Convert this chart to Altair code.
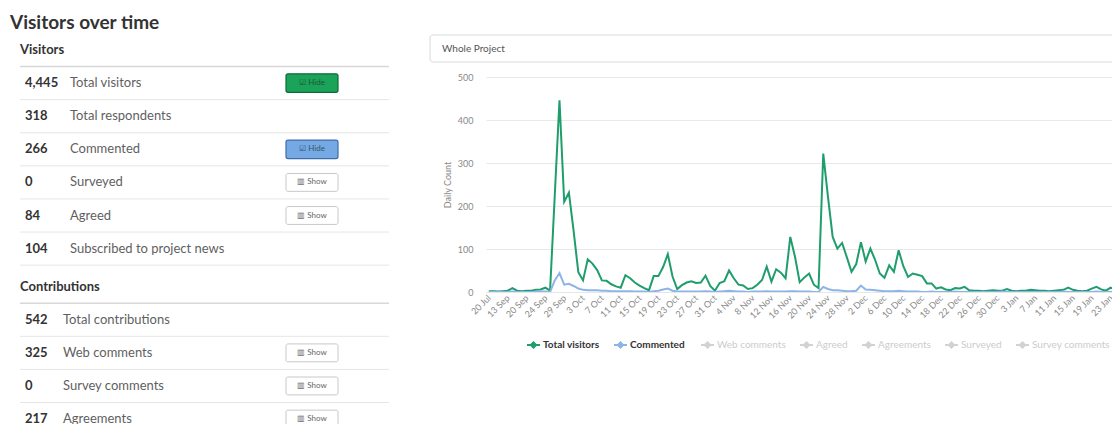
import json
import altair as alt
import pandas as pd

# ---------------- data ----------------
# category labels: a few sparse early dates, then one category per day
early_dates = ["20 Jul", "3 Aug", "24 Aug", "7 Sep", "13 Sep", "15 Sep", "17 Sep", "18 Sep",
               "20 Sep", "21 Sep", "22 Sep", "23 Sep", "24 Sep", "25 Sep", "27 Sep", "28 Sep"]
daily_dates = [f"{d.day} {d.strftime('%b')}" for d in pd.date_range("2015-09-29", "2016-01-24")]
categories = early_dates + daily_dates

total_visitors = [
    2, 2, 1, 2, 3, 9, 3, 2, 3, 3, 5, 6, 10, 3, 225, 446,
    210, 231, 142, 46, 27, 76, 66, 51, 27, 26, 18, 13, 10, 39, 32, 22,
    15, 9, 4, 37, 37, 58, 88, 36, 7, 16, 22, 25, 21, 22, 38, 14,
    3, 21, 25, 50, 32, 17, 15, 7, 9, 17, 28, 59, 24, 53, 45, 32,
    128, 82, 23, 34, 43, 17, 9, 322, 221, 128, 101, 114, 81, 47, 65, 116,
    71, 101, 75, 43, 33, 62, 47, 97, 60, 35, 43, 40, 37, 20, 20, 8,
    11, 6, 4, 9, 8, 12, 4, 3, 3, 2, 3, 4, 3, 3, 7, 3,
    2, 3, 3, 5, 4, 3, 3, 2, 3, 4, 5, 10, 5, 3, 2, 3,
    8, 12, 6, 3, 10, 6,
]
commented = [
    0, 0, 0, 0, 0, 1, 0, 0, 0, 0, 1, 1, 1, 0, 27, 44,
    17, 19, 14, 8, 5, 4, 4, 4, 3, 3, 2, 2, 2, 2, 2, 1,
    1, 1, 0, 2, 3, 6, 8, 3, 1, 1, 1, 1, 1, 1, 2, 1,
    0, 1, 2, 3, 2, 1, 1, 0, 1, 1, 1, 2, 1, 1, 1, 1,
    2, 2, 1, 1, 1, 0, 0, 12, 7, 4, 4, 3, 2, 2, 3, 15,
    6, 5, 4, 3, 2, 2, 2, 3, 2, 1, 1, 1, 0, 0, 1, 0,
    0, 0, 0, 1, 0, 0, 0, 0, 0, 0, 0, 0, 0, 1, 0, 0,
    0, 0, 0, 0, 0, 0, 0, 0, 0, 0, 1, 0, 0, 0, 0, 0,
    0, 1, 0, 0, 0, 0,
]

shown_series = ["Total visitors", "Commented"]
hidden_series = ["Web comments", "Agreed", "Agreements", "Surveyed", "Survey comments"]

visitor_counts = ["4,445", "318", "266", "0", "84", "104"]
visitor_labels = ["Total visitors", "Total respondents", "Commented", "Surveyed", "Agreed",
                  "Subscribed to project news"]
visitor_buttons = ["hide", "", "hide", "show", "show", ""]

contribution_counts = ["542", "325", "0", "217"]
contribution_labels = ["Total contributions", "Web comments", "Survey comments", "Agreements"]
contribution_buttons = ["", "show", "show", "show"]

# ---------------- styling ----------------
GREEN = "#1f9d6c"
BLUE = "#8db4e6"
FONT = "Lato"
DARK = "#333333"
MUTED = "#5f5f5f"
AXIS_GREY = "#888888"

W, H = 626, 215
PAD_LEFT, PAD_TOP = 486, 77

# ---------------- line chart ----------------
n = len(categories)
lines_df = pd.DataFrame({
    "idx": list(range(n)) * 2,
    "value": total_visitors + commented,
    "series": [shown_series[0]] * n + [shown_series[1]] * n,
})

tick_idx = list(range(0, n - 1, 4))
tick_labels = [categories[i] for i in tick_idx]
label_expr = f"{json.dumps(tick_labels)}[round(datum.value / 4)]"

legend_symbol = "M-1,0L1,0M0,-0.4L0.4,0L0,0.4L-0.4,0Z"
legend_common = dict(orient="none", legendY=260, direction="horizontal", title=None,
                     symbolType=legend_symbol, symbolSize=169, symbolStrokeWidth=2,
                     labelFont=FONT, labelFontSize=10, labelOffset=2, columnPadding=10)

lines = alt.Chart(lines_df).mark_line(strokeWidth=2, clip=True).encode(
    x=alt.X("idx:Q",
            scale=alt.Scale(domain=[-0.6, 132.3], nice=False, zero=False),
            axis=alt.Axis(values=tick_idx, labelExpr=label_expr, labelAngle=315,
                          labelAlign="right", labelBaseline="middle", labelPadding=4,
                          labelFont=FONT, labelFontSize=9, labelColor=AXIS_GREY,
                          labelOverlap=False, labelFlush=False, ticks=False, grid=False,
                          domainColor="#e6e6e6", title=None)),
    y=alt.Y("value:Q",
            scale=alt.Scale(domain=[0, 500], nice=False),
            axis=alt.Axis(values=[0, 100, 200, 300, 400, 500], domain=False, ticks=False,
                          grid=True, gridColor="#e8e8e8", labelFont=FONT, labelFontSize=9,
                          labelColor=AXIS_GREY, labelPadding=13,
                          title="Daily Count", titleFont=FONT, titleFontSize=9,
                          titleFontWeight="normal", titleColor=AXIS_GREY,
                          titleAngle=270, titleBaseline="middle", titleAlign="center",
                          titleX=-39, titleY=H / 2)),
    color=alt.Color("series:N",
                    scale=alt.Scale(domain=shown_series, range=[GREEN, BLUE]),
                    legend=alt.Legend(legendX=40, labelFontWeight="bold", labelColor=DARK,
                                      **legend_common)),
    order=alt.Order("idx:Q"),
)

# series that are switched off only appear, greyed, in the legend
hidden_df = pd.DataFrame({"series": hidden_series})
hidden = alt.Chart(hidden_df).mark_line().encode(
    x=alt.value(0), y=alt.value(0),
    color=alt.Color("series:N",
                    scale=alt.Scale(domain=hidden_series, range=["#d2d2d2"] * len(hidden_series)),
                    legend=alt.Legend(legendX=214, labelColor="#cccccc", **legend_common)),
)

# ---------------- summary table ----------------
sections = [
    ("Visitors", visitor_counts, visitor_labels, visitor_buttons),
    ("Contributions", contribution_counts, contribution_labels, contribution_buttons),
]
label_x = {"Visitors": 70 - PAD_LEFT, "Contributions": 63 - PAD_LEFT}

headers, rows = [], []
slot = 0.0
for name, counts, labels, buttons in sections:
    headers.append({"slot": slot, "text": name})
    slot += 1
    for c, l, b in zip(counts, labels, buttons):
        rows.append({"slot": slot, "section": name, "count": c, "label": l, "button": b})
        slot += 1
    slot += 0.15
headers_df = pd.DataFrame(headers)
rows_df = pd.DataFrame(rows)


def row_y(field="slot"):
    return alt.Y(f"{field}:Q", scale=alt.Scale(domain=[0, 10], range=[50 - PAD_TOP, 50 - PAD_TOP + 331],
                                                nice=False, zero=False), axis=None)


header_text = alt.Chart(headers_df).mark_text(
    align="left", baseline="middle", font=FONT, fontSize=13, fontWeight="bold", color=DARK
).encode(x=alt.value(20 - PAD_LEFT), y=row_y(), text="text:N")

header_rule = alt.Chart(headers_df).transform_calculate(line="datum.slot + 0.5").mark_rule(
    color="#d8d8d8", strokeWidth=1.5
).encode(x=alt.value(20 - PAD_LEFT), x2=alt.value(389 - PAD_LEFT), y=row_y("line"))

row_rule = alt.Chart(rows_df).transform_filter("datum.slot < 11").transform_calculate(
    line="datum.slot + 0.5").mark_rule(color="#e6e6e6", strokeWidth=1).encode(
    x=alt.value(20 - PAD_LEFT), x2=alt.value(389 - PAD_LEFT), y=row_y("line"))

count_text = alt.Chart(rows_df).mark_text(
    align="left", baseline="middle", font=FONT, fontSize=13, fontWeight="bold", color=DARK
).encode(x=alt.value(25 - PAD_LEFT), y=row_y(), text="count:N")

label_layers = []
for name, *_ in sections:
    label_layers.append(
        alt.Chart(rows_df).transform_filter(alt.datum.section == name).mark_text(
            align="left", baseline="middle", font=FONT, fontSize=13, color=MUTED
        ).encode(x=alt.value(label_x[name]), y=row_y(), text="label:N")
    )

btn_x, btn_x2 = 286 - PAD_LEFT, 338 - PAD_LEFT
btn_mid = (btn_x + btn_x2) / 2

show_btn = alt.Chart(rows_df).transform_filter(alt.datum.button == "show").transform_calculate(
    top="datum.slot - 0.27", bottom="datum.slot + 0.27").mark_rect(
    fill="white", stroke="#c8c8c8", strokeWidth=1, cornerRadius=2
).encode(x=alt.value(btn_x), x2=alt.value(btn_x2), y=row_y("top"), y2="bottom:Q")

show_txt = alt.Chart(rows_df).transform_filter(alt.datum.button == "show").mark_text(
    align="center", baseline="middle", font=FONT, fontSize=8, color="#666666"
).encode(x=alt.value(btn_mid), y=row_y(), text=alt.value("▥ Show"))

hide_btn = alt.Chart(rows_df).transform_filter(alt.datum.button == "hide").transform_calculate(
    top="datum.slot - 0.28", bottom="datum.slot + 0.28").mark_rect(
    strokeWidth=1.2, cornerRadius=2
).encode(
    x=alt.value(btn_x), x2=alt.value(btn_x2), y=row_y("top"), y2="bottom:Q",
    fill=alt.Fill("label:N", scale=alt.Scale(domain=shown_series, range=["#1ba35a", "#74a9e6"]),
                  legend=None),
    stroke=alt.Stroke("label:N", scale=alt.Scale(domain=shown_series, range=["#0f6b38", "#3f6ea6"]),
                      legend=None),
)

hide_txt = alt.Chart(rows_df).transform_filter(alt.datum.button == "hide").mark_text(
    align="center", baseline="middle", font=FONT, fontSize=8, color="#1d3b2c", opacity=0.75
).encode(x=alt.value(btn_mid), y=row_y(), text=alt.value("☑ Hide"))

# ---------------- page furniture ----------------
one = pd.DataFrame({"k": [0]})

title = alt.Chart(one).mark_text(
    align="left", baseline="alphabetic", font=FONT, fontSize=19, fontWeight="bold", color=DARK
).encode(x=alt.value(10 - PAD_LEFT), y=alt.value(29 - PAD_TOP), text=alt.value("Visitors over time"))

select_box = alt.Chart(one).mark_rect(
    fill="white", stroke="#d9d9d9", strokeWidth=1, cornerRadius=3
).encode(x=alt.value(430 - PAD_LEFT), x2=alt.value(W + 40),
         y=alt.value(35 - PAD_TOP), y2=alt.value(62 - PAD_TOP))

select_txt = alt.Chart(one).mark_text(
    align="left", baseline="middle", font=FONT, fontSize=10, color="#555555"
).encode(x=alt.value(442 - PAD_LEFT), y=alt.value(49 - PAD_TOP), text=alt.value("Whole Project"))

chart = alt.layer(
    lines, hidden,
    header_rule, row_rule, header_text, count_text, *label_layers,
    show_btn, show_txt, hide_btn, hide_txt,
    title, select_box, select_txt,
).resolve_scale(
    y="independent", color="independent"
).properties(
    width=W, height=H,
    autosize=alt.AutoSizeParams(type="none"),
    padding={"left": PAD_LEFT, "top": PAD_TOP, "right": 0, "bottom": 424 - PAD_TOP - H},
    background="white",
).configure_view(stroke=None)

chart.save("out.html", embed_options={"renderer": "svg", "actions": False})
